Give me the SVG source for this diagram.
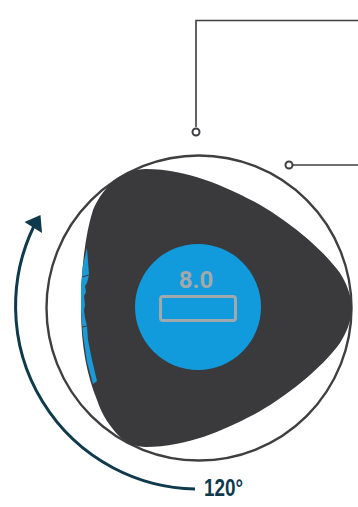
<svg xmlns="http://www.w3.org/2000/svg" width="358" height="507" viewBox="0 0 358 507">
<style>
.lead{fill:none;stroke:#3f3f41;stroke-width:1.6}
.dot{fill:#fff;stroke:#3f3f41;stroke-width:2}
.inner{fill:none;stroke:#a3a8ab;stroke-width:3}
text{font-family:"Liberation Sans",Arial,sans-serif}
</style>
<rect width="358" height="507" fill="#fff"/>
<g id="housing"><circle cx="199" cy="308" r="152.500" fill="#fff" stroke="#3f3f41" stroke-width="2.400"/></g>
<g id="rotor">
<path d="M352 308C351 293 346 283 340 273C322 248 285 218 253 201C224 186 187 169 146 169C135 169 124 173 116 179C106 187 98 198 93 210C85 235 81 270 81 308C81 346 87 375 97 400C102 415 110 427 120 437C127 443 136 447 146 447C187 447 224 430 253 415C285 398 322 368 340 343C346 333 351 323 352 308Z" fill="#3a3a3c"/>
<path d="M87 248L89 275L87 283L85 286L86 292L84 296L85 305L84 310L85 318L87 326L88 340L92 360L97 381L93 384L87 362L83 335L81 310L81 285L83 265Z" fill="#1a9ad6"/>
<path d="M82 277L89 275M82 327L87 326" stroke="#3a3a3c" stroke-width="1" fill="none"/>
</g>
<g id="center">
<circle cx="198" cy="307" r="63" fill="#119bdc"/>
<rect x="160.500" y="296.500" width="75" height="24" rx="2.500" class="inner"/>
<text x="196" y="288" text-anchor="middle" font-size="24" font-weight="700" fill="#a3a8ab" style="font-family:Roboto,'Liberation Sans',sans-serif">8.0</text>
</g>
<g id="connectors">
<path class="lead" d="M196 127V20.500H358"/>
<path class="lead" d="M293 165H358"/>
<path d="M195 489A183 183 0 0 1 34 226" fill="none" stroke="#0f3a4c" stroke-width="3"/>
<path d="M40.500 215L24.500 222L42 233Z" fill="#0f3a4c"/>
</g>
<g id="marker-top"><circle class="dot" cx="196" cy="132" r="3.500"/></g>
<g id="marker-right"><circle class="dot" cx="289" cy="165" r="3.500"/></g>
<g id="label"><text x="204" y="496" font-size="23.500" font-weight="700" fill="#0f3a4c" textLength="39" lengthAdjust="spacingAndGlyphs">120°</text></g>
</svg>
